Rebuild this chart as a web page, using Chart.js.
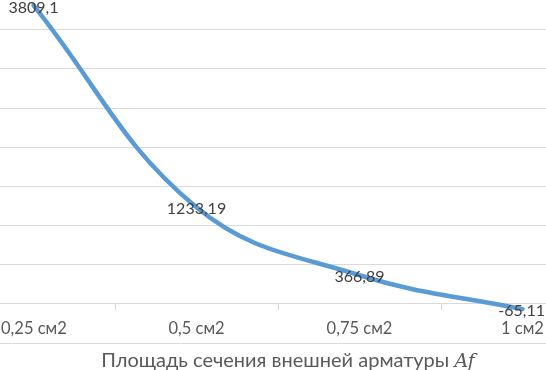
<!DOCTYPE html>
<html>
<head>
<meta charset="utf-8">
<script src="https://cdn.jsdelivr.net/npm/chart.js@4/dist/chart.umd.min.js"></script>
<style>
  html, body { margin:0; padding:0; background:#fff; width:546px; height:370px; overflow:hidden; }
  #wrap { position:absolute; left:0; top:0; width:546px; height:370px; overflow:hidden; }
  #box { position:absolute; left:-48px; top:-30px; width:652px; height:410px; }
  #title { position:absolute; left:0; top:347px; width:576px; text-align:center;
           font-family: Lato, "Noto Sans", sans-serif; font-size:20px; line-height:24px; color:#595959; white-space:nowrap; }
  #title i { font-family: "DejaVu Serif", "Liberation Serif", serif; font-style:italic; font-size:19px; }
</style>
</head>
<body>
<div id="wrap">
  <div id="box"><canvas id="c"></canvas></div>
  <div id="title">Площадь сечения внешней арматуры <i>Af</i></div>
</div>
<script>
const categories = ["0,25 см2", "0,5 см2", "0,75 см2", "1 см2"];
const values = [3809.1, 1233.19, 366.89, -65.11];
const yTicks = { min: -500, max: 4000, step: 500 };

const VIEW = { left: 48, right: 594 };
const FONT = 'Lato, "Noto Sans", sans-serif';

function fmt(v) { return String(v).replace('.', ','); }

function clampX(ctx, text, x) {
  const w = ctx.measureText(text).width;
  return Math.min(Math.max(x, VIEW.left + w / 2 + 1), VIEW.right - w / 2 - 1);
}

const excelPlugin = {
  id: 'excelish',
  afterDatasetsDraw(chart) {
    const ctx = chart.ctx, xs = chart.scales.x, ys = chart.scales.y;
    const y0 = ys.getPixelForValue(0);
    ctx.save();
    ctx.strokeStyle = '#D9D9D9';
    ctx.lineWidth = 1;
    for (let i = 0; i <= categories.length; i++) {
      const x = Math.round(xs.getPixelForValue(i - 0.5)) + 0.5;
      ctx.beginPath();
      ctx.moveTo(x, Math.round(y0));
      ctx.lineTo(x, Math.round(y0) + 6);
      ctx.stroke();
    }
    ctx.font = '16.5px ' + FONT;
    ctx.fillStyle = '#595959';
    ctx.textAlign = 'center';
    ctx.textBaseline = 'middle';
    categories.forEach((c, i) => {
      const x = clampX(ctx, c, xs.getPixelForValue(i));
      ctx.fillText(c, x, y0 + 25);
    });
    ctx.font = '16px ' + FONT;
    ctx.fillStyle = '#404040';
    const meta = chart.getDatasetMeta(0);
    meta.data.forEach((pt, i) => {
      const t = fmt(values[i]);
      const x = clampX(ctx, t, pt.x);
      ctx.fillText(t, x, pt.y + 2);
    });
    ctx.restore();
  }
};

new Chart(document.getElementById('c'), {
  type: 'line',
  data: {
    labels: categories,
    datasets: [{
      data: values,
      borderColor: '#5B9BD5',
      borderWidth: 4.5,
      tension: 0.4,
      pointRadius: 0,
      fill: false,
      borderCapStyle: 'round',
      borderJoinStyle: 'round'
    }]
  },
  options: {
    responsive: true,
    maintainAspectRatio: false,
    animation: false,
    devicePixelRatio: 1,
    layout: { padding: { top: 20.4, bottom: 36.8, left: 0, right: 0 } },
    plugins: { legend: { display: false }, tooltip: { enabled: false }, title: { display: false } },
    scales: {
      x: { display: false, offset: true },
      y: {
        min: yTicks.min,
        max: yTicks.max,
        ticks: { display: false, stepSize: yTicks.step },
        grid: { color: '#D9D9D9', lineWidth: 1, drawTicks: false, tickLength: 0 },
        border: { display: false }
      }
    }
  },
  plugins: [excelPlugin]
});
</script>
</body>
</html>
